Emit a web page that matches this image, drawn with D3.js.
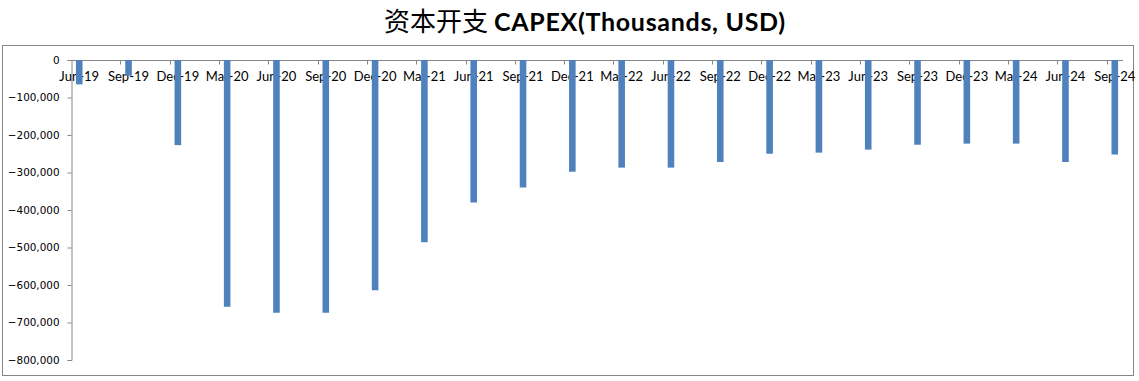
<!DOCTYPE html>
<html>
<head>
<meta charset="utf-8">
<script src="https://cdn.jsdelivr.net/npm/d3@7/dist/d3.min.js"></script>
<style>
  html, body { margin: 0; padding: 0; background: #fff; }
  svg { display: block; }
</style>
</head>
<body>
<svg id="chart" width="1139" height="381"></svg>
<script>
// ---- data (Thousands, USD) ----
const categories = ["Jun-19","Sep-19","Dec-19","Mar-20","Jun-20","Sep-20","Dec-20","Mar-21","Jun-21","Sep-21","Dec-21","Mar-22","Jun-22","Sep-22","Dec-22","Mar-23","Jun-23","Sep-23","Dec-23","Mar-24","Jun-24","Sep-24"];
const capex = [-65000,-42000,-227000,-658000,-674000,-674000,-614000,-486000,-380000,-340000,-298000,-287000,-287000,-272000,-250000,-247000,-239000,-226000,-223000,-223000,-272000,-252000];
const yTicks = [0,-100000,-200000,-300000,-400000,-500000,-600000,-700000,-800000];
const titleCN = "资本开支 ";
const titleEN = "CAPEX(Thousands, USD)";

const svg = d3.select("#chart");
const plot = { left: 71, right: 1123, top: 60, bottom: 360 };

// frame
svg.append("rect").attr("x", 2.5).attr("y", 45.5).attr("width", 1131).attr("height", 330)
  .attr("fill", "none").attr("stroke", "#868686").attr("stroke-width", 1);

// title
const title = svg.append("text").attr("x", 585).attr("y", 30.5).attr("text-anchor", "middle").attr("fill", "#000");
title.append("tspan").text(titleCN).attr("font-family", "'Noto Sans CJK SC'").attr("font-size", 26).attr("font-weight", 400);
title.append("tspan").text(titleEN).attr("font-family", "Lato").attr("font-size", 25).attr("font-weight", 700).attr("letter-spacing", 0.7);

// x scale: date axis with monthly base unit
const parse = d3.timeParse("%b-%y");
const fmtKey = d3.timeFormat("%Y-%m");
const first = parse(categories[0]);
const last = parse(categories[categories.length - 1]);
const months = d3.timeMonth.range(first, d3.timeMonth.offset(last, 1)).map(fmtKey);
const x = d3.scaleBand().domain(months).range([plot.left, plot.right]).paddingInner(0).paddingOuter(0);
const barW = x.bandwidth() * 0.4;

// y scale
const y = d3.scaleLinear().domain([-800000, 0]).range([plot.bottom, plot.top]);

// y axis
const yAxis = d3.axisLeft(y).tickValues(yTicks).tickSize(4).tickPadding(8).tickFormat(d3.format(","));
const gy = svg.append("g").attr("transform", `translate(${plot.left + 0.5},0)`).call(yAxis);
gy.select(".domain").attr("stroke", "#868686");
gy.selectAll(".tick line").attr("stroke", "#868686");
gy.selectAll(".tick text").attr("font-family", "'DejaVu Sans'").attr("font-size", 10.4).attr("fill", "#000");

// x axis line + ticks at the start of each quarter label month
const gx = svg.append("g");
gx.append("line").attr("x1", plot.left).attr("x2", plot.right).attr("y1", y(0) + 0.5).attr("y2", y(0) + 0.5).attr("stroke", "#868686");
gx.selectAll("line.tk").data(categories.slice(1)).join("line").attr("class", "tk")
  .attr("x1", d => Math.round(x(fmtKey(parse(d)))) + 0.5)
  .attr("x2", d => Math.round(x(fmtKey(parse(d)))) + 0.5)
  .attr("y1", y(0)).attr("y2", y(0) + 4.5).attr("stroke", "#868686");
gx.selectAll("text").data(categories).join("text")
  .attr("x", d => x(fmtKey(parse(d))) + x.bandwidth() / 2)
  .attr("y", y(0) + 20.5)
  .attr("text-anchor", "middle")
  .attr("font-family", "Lato").attr("font-size", 13).attr("fill", "#000")
  .text(d => d);

// bars
svg.append("g").selectAll("rect").data(categories).join("rect")
  .attr("x", d => x(fmtKey(parse(d))) + (x.bandwidth() - barW) / 2)
  .attr("width", barW)
  .attr("y", y(0))
  .attr("height", (d, i) => y(capex[i]) - y(0))
  .attr("fill", "#4F81BD");
</script>
</body>
</html>
